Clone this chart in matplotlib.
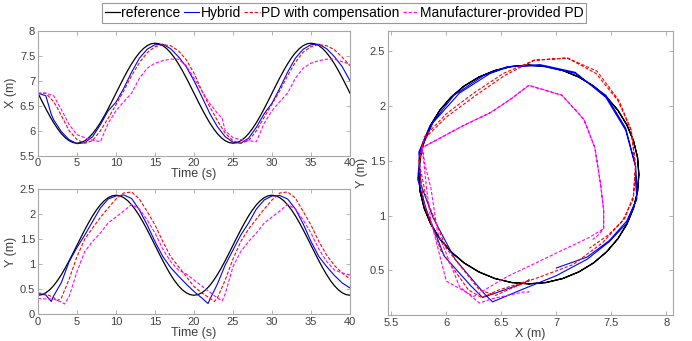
import matplotlib
matplotlib.use('Agg')
import matplotlib.pyplot as plt
from matplotlib.ticker import FormatStrFormatter, MultipleLocator

plt.rcParams['font.family'] = ['Liberation Sans', 'DejaVu Sans']

# reference trajectory, one 20 s cycle sampled every 0.5 s (repeats twice)
ref_t = [i * 0.5 for i in range(81)]
ref_x_cycle = [6.75, 6.594, 6.441, 6.296, 6.162, 6.043, 5.941, 5.859, 5.799, 5.762,
               5.75, 5.762, 5.799, 5.859, 5.941, 6.043, 6.162, 6.296, 6.441, 6.594,
               6.75, 6.906, 7.059, 7.204, 7.338, 7.457, 7.559, 7.641, 7.701, 7.738,
               7.75, 7.738, 7.701, 7.641, 7.559, 7.457, 7.338, 7.204, 7.059, 6.906, 6.75]
ref_y_cycle = [0.375, 0.387, 0.424, 0.484, 0.566, 0.668, 0.787, 0.921, 1.066, 1.219,
               1.375, 1.531, 1.684, 1.829, 1.963, 2.082, 2.184, 2.266, 2.326, 2.363,
               2.375, 2.363, 2.326, 2.266, 2.184, 2.082, 1.963, 1.829, 1.684, 1.531,
               1.375, 1.219, 1.066, 0.921, 0.787, 0.668, 0.566, 0.484, 0.424, 0.387, 0.375]
ref_x = ref_x_cycle + ref_x_cycle[1:]
ref_y = ref_y_cycle + ref_y_cycle[1:]

# Hybrid
hyb_t = [0, 1, 1.7, 2, 3, 4, 5, 6, 7, 8, 9, 10, 11, 12, 13, 14, 15, 16, 17, 18, 19, 20,
         21, 21.8, 22, 23, 24, 25, 26, 27, 28, 29, 30, 31, 32, 33, 34, 35, 36, 37, 38, 39, 40]
hyb_x = [6.75, 6.70, 6.33, 6.22, 5.98, 5.82, 5.74, 5.76, 5.88, 6.12, 6.40, 6.57, 6.85, 7.17,
         7.45, 7.63, 7.72, 7.73, 7.64, 7.48, 7.28, 7.00, 6.68, 6.42, 6.35, 6.08, 5.88, 5.77,
         5.75, 5.85, 6.07, 6.34, 6.55, 6.85, 7.17, 7.45, 7.63, 7.72, 7.73, 7.64, 7.48, 7.28, 7.00]
hyb_y = [0.41, 0.38, 0.25, 0.36, 0.63, 1.05, 1.33, 1.58, 1.85, 2.12, 2.30, 2.36, 2.38, 2.31,
         2.08, 1.78, 1.45, 1.15, 0.93, 0.76, 0.60, 0.45, 0.32, 0.21, 0.28, 0.60, 0.98, 1.28,
         1.58, 1.82, 2.10, 2.28, 2.36, 2.37, 2.30, 2.10, 1.80, 1.45, 1.15, 0.95, 0.77, 0.62, 0.52]

# PD with compensation
pdc_t = [0, 1, 2, 2.5, 3, 4, 5, 6, 7, 8, 9, 10, 11, 12, 13, 14, 15, 16, 17, 18, 19, 20,
         21, 22, 22.6, 23, 24, 25, 26, 27, 28, 29, 30, 31, 32, 33, 34, 35, 36, 37, 38, 39, 40]
pdc_x = [6.75, 6.75, 6.58, 6.45, 6.30, 6.00, 5.82, 5.75, 5.80, 6.00, 6.25, 6.52, 6.80, 7.10,
         7.36, 7.56, 7.68, 7.72, 7.70, 7.60, 7.42, 7.15, 6.80, 6.48, 6.32, 6.20, 5.95, 5.80,
         5.75, 5.80, 6.00, 6.27, 6.53, 6.80, 7.10, 7.37, 7.57, 7.68, 7.72, 7.70, 7.62, 7.47, 7.30]
pdc_y = [0.42, 0.40, 0.33, 0.27, 0.32, 0.70, 1.15, 1.50, 1.72, 1.93, 2.12, 2.30, 2.42, 2.44,
         2.30, 2.05, 1.78, 1.45, 1.15, 0.95, 0.75, 0.55, 0.42, 0.32, 0.25, 0.32, 0.68, 1.10,
         1.45, 1.70, 1.90, 2.10, 2.28, 2.42, 2.44, 2.32, 2.05, 1.78, 1.45, 1.18, 0.97, 0.82, 0.70]

# Manufacturer-provided PD
man_t = [0, 1, 2, 3, 3.4, 4, 5, 6, 7, 8, 9, 10, 11, 12, 13, 14, 15, 16, 17, 18, 19, 20,
         21, 22, 23, 23.6, 24, 25, 26, 27, 28, 29, 30, 31, 32, 33, 34, 35, 36, 37, 38, 39, 40]
man_x = [6.75, 6.75, 6.70, 6.42, 6.30, 6.12, 5.92, 5.86, 5.81, 5.78, 6.15, 6.40, 6.58, 6.75,
         7.05, 7.25, 7.35, 7.40, 7.43, 7.43, 7.30, 7.05, 6.80, 6.55, 6.35, 6.25, 6.00, 5.86,
         5.82, 5.80, 5.78, 6.15, 6.40, 6.58, 6.75, 7.05, 7.25, 7.35, 7.40, 7.43, 7.43, 7.38, 7.33]
man_y = [0.31, 0.30, 0.30, 0.24, 0.20, 0.35, 0.85, 1.25, 1.45, 1.62, 1.82, 1.94, 2.06, 2.19,
         2.10, 1.88, 1.62, 1.30, 1.05, 0.88, 0.80, 0.68, 0.56, 0.44, 0.32, 0.26, 0.40, 0.95,
         1.25, 1.45, 1.62, 1.82, 1.94, 2.06, 2.19, 2.10, 1.88, 1.62, 1.30, 1.05, 0.88, 0.82, 0.78]

labels = ['reference', 'Hybrid', 'PD with compensation', 'Manufacturer-provided PD']

frame = '#a6a6a6'
txt = '#404040'
dash = (3, 1.6)

fig = plt.figure(figsize=(6.92, 3.41), dpi=100)
ax1 = fig.add_axes([0.0549, 0.5434, 0.4509, 0.3666])
ax2 = fig.add_axes([0.0549, 0.0792, 0.4509, 0.3666])
ax3 = fig.add_axes([0.5607, 0.0762, 0.4118, 0.8338])


def draw(ax, series):
    handles = []
    for (xs, ys), color, ls, lw in series:
        h, = ax.plot(xs, ys, color=color, lw=lw, linestyle=ls)
        if ls == '--':
            h.set_dashes(dash)
        handles.append(h)
    return handles


styles = [('black', '-', 0.9), ('#0000ff', '-', 0.8), ('#ff0000', '--', 0.8), ('#ff00ff', '--', 0.8)]
top = [(ref_t, ref_x), (hyb_t, hyb_x), (pdc_t, pdc_x), (man_t, man_x)]
bot = [(ref_t, ref_y), (hyb_t, hyb_y), (pdc_t, pdc_y), (man_t, man_y)]
xy = [(ref_x, ref_y), (hyb_x, hyb_y), (pdc_x, pdc_y), (man_x, man_y)]

handles = draw(ax1, [(d, *s) for d, s in zip(top, styles)])
draw(ax2, [(d, *s) for d, s in zip(bot, styles)])
draw(ax3, [(d, *s) for d, s in zip(xy, styles)])

ax1.set_xlim(0, 40)
ax1.set_ylim(5.5, 8)
ax1.yaxis.set_major_locator(MultipleLocator(0.5))
ax1.set_ylabel('X (m)', labelpad=2)
ax2.set_xlim(0, 40)
ax2.set_ylim(0, 2.5)
ax2.yaxis.set_major_locator(MultipleLocator(0.5))
ax2.set_ylabel('Y (m)', labelpad=2)
for ax in (ax1, ax2):
    ax.xaxis.set_major_locator(MultipleLocator(5))
    ax.set_xlabel('Time (s)', labelpad=0)

ax3.set_xlim(5.47, 8.06)
ax3.set_ylim(0.09, 2.69)
ax3.xaxis.set_major_locator(MultipleLocator(0.5))
ax3.yaxis.set_major_locator(MultipleLocator(0.5))
ax3.set_xlabel('X (m)', labelpad=0)
ax3.set_ylabel('Y (m)', labelpad=1)

for ax in (ax1, ax2, ax3):
    ax.yaxis.set_major_formatter(FormatStrFormatter('%g'))
    ax.xaxis.set_major_formatter(FormatStrFormatter('%g'))
    ax.tick_params(direction='in', top=True, right=True, length=3, width=0.6,
                   color=frame, labelcolor=txt, labelsize=8, pad=2)
    for sp in ax.spines.values():
        sp.set_color(frame)
        sp.set_linewidth(0.8)
    ax.xaxis.label.set_color(txt)
    ax.yaxis.label.set_color(txt)
    ax.xaxis.label.set_size(9)
    ax.yaxis.label.set_size(9)

leg = fig.legend(handles, labels, loc='upper center', bbox_to_anchor=(0.497, 1.0), ncol=4,
                 fontsize=10, frameon=True, fancybox=False, edgecolor='#808080',
                 handlelength=1.1, handletextpad=0.1, columnspacing=0.25,
                 borderpad=0.2, borderaxespad=0.25)
leg.get_frame().set_linewidth(0.8)

fig.savefig('out.png', dpi=100)
